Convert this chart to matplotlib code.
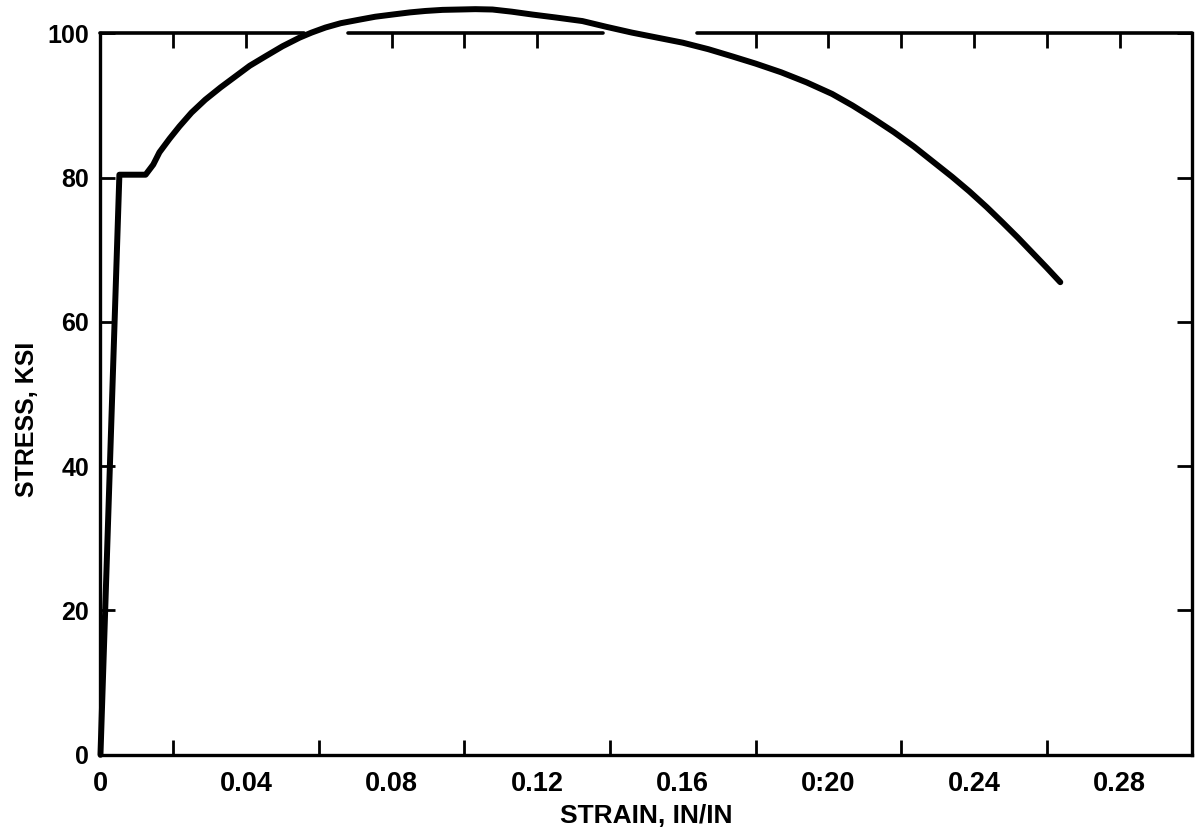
import matplotlib.pyplot as plt
import numpy as np

# stress-strain curve (strain in/in, stress ksi)
strain = [0.0, 0.0052, 0.0124, 0.0145, 0.0162, 0.019, 0.0217, 0.025, 0.0288,
          0.033, 0.037, 0.041, 0.0453, 0.050, 0.0547, 0.058, 0.0618, 0.066,
          0.0712, 0.0755, 0.0802, 0.085, 0.0893, 0.094, 0.0986, 0.103, 0.1077,
          0.113, 0.1187, 0.125, 0.1324, 0.139, 0.146, 0.153, 0.160, 0.167,
          0.1736, 0.180, 0.187, 0.194, 0.201, 0.2066, 0.212, 0.218, 0.2235,
          0.229, 0.234, 0.2387, 0.2435, 0.2478, 0.252, 0.256, 0.260, 0.2637]
stress = [0.0, 80.4, 80.4, 81.8, 83.5, 85.4, 87.1, 89.0, 90.8,
          92.5, 94.0, 95.5, 96.8, 98.2, 99.4, 100.1, 100.8, 101.4,
          101.9, 102.3, 102.6, 102.9, 103.1, 103.25, 103.3, 103.35, 103.3,
          103.0, 102.6, 102.2, 101.7, 100.9, 100.1, 99.4, 98.7, 97.8,
          96.8, 95.8, 94.6, 93.2, 91.6, 90.0, 88.3, 86.3, 84.3,
          82.1, 80.1, 78.1, 75.9, 73.8, 71.7, 69.6, 67.5, 65.5]

x_ticks = [0.02, 0.04, 0.06, 0.08, 0.10, 0.12, 0.14, 0.16, 0.18, 0.20, 0.22, 0.24, 0.26, 0.28]
x_labels = [0, 0.04, 0.08, 0.12, 0.16, 0.20, 0.24, 0.28]
x_label_text = ['0', '0.04', '0.08', '0.12', '0.16', '0:20', '0.24', '0.28']
top_ticks = [0.02, 0.04, 0.08, 0.10, 0.12, 0.18, 0.20, 0.22, 0.24, 0.26, 0.28]
y_ticks = [0, 20, 40, 60, 80, 100]

plt.rcParams['font.family'] = ['Liberation Sans', 'DejaVu Sans']
plt.rcParams['font.weight'] = 'bold'

fig = plt.figure(figsize=(11.96, 8.33), dpi=100)
ax = fig.add_axes([0.084, 0.094, 0.913, 0.866])

ax.plot(strain, stress, color='black', lw=4.3, solid_capstyle='round',
        solid_joinstyle='round', clip_on=False, zorder=5)

ax.set_xlim(0, 0.30)
ax.set_ylim(0, 100)

for s in ['left', 'right', 'bottom']:
    ax.spines[s].set_linewidth(2.4)
ax.spines['top'].set_visible(False)
# the top border in the scan is broken in a few places
for a, b in [(0.0, 0.056), (0.068, 0.138), (0.164, 0.30)]:
    ax.plot([a, b], [1, 1], color='black', lw=2.6, solid_capstyle='round',
            transform=ax.get_xaxis_transform(), clip_on=False)

ax.set_xticks(x_ticks, minor=True)
ax.set_xticks(x_labels)
ax.set_xticklabels(x_label_text)
ax.set_yticks(y_ticks)
ax.tick_params(axis='x', which='major', length=0, pad=12, labelsize=19.5)
ax.tick_params(axis='x', which='minor', direction='in', length=11, width=2)
ax.tick_params(axis='y', direction='in', length=11, width=2, pad=8, labelsize=18,
               right=True)

top = ax.secondary_xaxis('top')
top.set_xticks(top_ticks)
top.tick_params(direction='in', length=11, width=2, labeltop=False)
top.spines['top'].set_visible(False)

ax.set_xlabel('STRAIN, IN/IN', fontsize=19, fontweight='bold', labelpad=5)
ax.set_ylabel('STRESS, KSI', fontsize=18, fontweight='bold')
ax.yaxis.set_label_coords(-0.056, 0.465)

fig.savefig('out.png', dpi=100)
